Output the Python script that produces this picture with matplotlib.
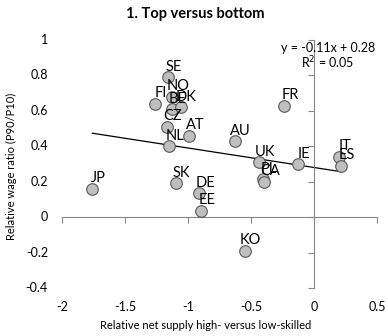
import numpy as np
import matplotlib
matplotlib.use('Agg')
from matplotlib import pyplot as plt
from matplotlib import transforms

plt.rcParams['font.family'] = ['Lato', 'DejaVu Sans']

# Country codes and their coordinates
countries = ['SE', 'FI', 'NO', 'BE', 'DK', 'CZ', 'AT', 'AU', 'NL', 'FR', 'UK',
             'PL', 'CA', 'IE', 'IT', 'ES', 'JP', 'SK', 'DE', 'EE', 'KO']
net_supply = [-1.16, -1.26, -1.13, -1.13, -1.06, -1.17, -0.99, -0.63, -1.15, -0.24, -0.44,
              -0.405, -0.40, -0.13, 0.20, 0.21, -1.76, -1.10, -0.91, -0.90, -0.55]
wage_ratio = [0.79, 0.64, 0.68, 0.61, 0.62, 0.51, 0.46, 0.43, 0.40, 0.63, 0.31,
              0.215, 0.20, 0.30, 0.34, 0.29, 0.16, 0.19, 0.135, 0.035, -0.19]

# Linear trend
slope, intercept, r2 = -0.11, 0.28, 0.05

x_ticks = [-2, -1.5, -1, -0.5, 0, 0.5]
x_tick_labels = ['-2', '-1.5', '-1', '-0.5', '0', '0.5']
y_ticks = [-0.4, -0.2, 0, 0.2, 0.4, 0.6, 0.8, 1]
y_tick_labels = ['-0.4', '-0.2', '0', '0.2', '0.4', '0.6', '0.8', '1']

fig = plt.figure(figsize=(3.88, 3.36), dpi=100)
ax = fig.add_axes([0.160, 0.143, 0.812, 0.738])

axis_color = '#868686'

x = np.array(net_supply)
y = np.array(wage_ratio)

xs = np.array([x.min(), x.max()])
ax.plot(xs, slope * xs + intercept, color='black', lw=0.9, zorder=2)

ax.scatter(x, y, s=70, facecolor='#BFBFBF', edgecolor='#595959', linewidth=0.8, zorder=3)

for name, xi, yi in zip(countries, x, y):
    ax.annotate(name, (xi, yi), xytext=(4.3, 7.5), textcoords='offset points',
                ha='center', va='center', fontsize=10.5, zorder=4)

ax.set_xlim(-2, 0.5)
ax.set_ylim(-0.4, 1)

# Axes cross at the origin
for side in ['top', 'right']:
    ax.spines[side].set_visible(False)
ax.spines['left'].set_position(('data', 0))
ax.spines['bottom'].set_position(('data', 0))
ax.spines['left'].set_color(axis_color)
ax.spines['bottom'].set_color(axis_color)

ax.set_xticks(x_ticks)
ax.set_yticks(y_ticks)
ax.set_xticklabels([])
ax.set_yticklabels([])
ax.tick_params(axis='both', direction='out', length=4, color=axis_color)

# Tick labels sit at the outer edges of the plot
ylab_tf = transforms.blended_transform_factory(ax.transAxes, ax.transData)
for v, lab in zip(y_ticks, y_tick_labels):
    ax.text(-0.045, v, lab, transform=ylab_tf, ha='right', va='center', fontsize=9)
xlab_tf = transforms.blended_transform_factory(ax.transData, ax.transAxes)
for v, lab in zip(x_ticks, x_tick_labels):
    ax.text(v, -0.075, lab, transform=xlab_tf, ha='center', va='center', fontsize=9)

fig.text(0.53, 0.03, 'Relative net supply high- versus low-skilled',
         ha='center', va='center', fontsize=8)
fig.text(0.03, 0.506, 'Relative wage ratio (P90/P10)', rotation=90,
         ha='center', va='center', fontsize=8)
fig.text(0.503, 0.958, '1. Top versus bottom', ha='center', va='center',
         fontsize=10.5, fontweight='bold')

ax.text(0.844, 0.968, 'y = -0.11x + 0.28', transform=ax.transAxes,
        ha='center', va='center', fontsize=9)
ax.text(0.844, 0.907, 'R$^2$ = 0.05', transform=ax.transAxes,
        ha='center', va='center', fontsize=9)

fig.savefig('out.png', dpi=100)
